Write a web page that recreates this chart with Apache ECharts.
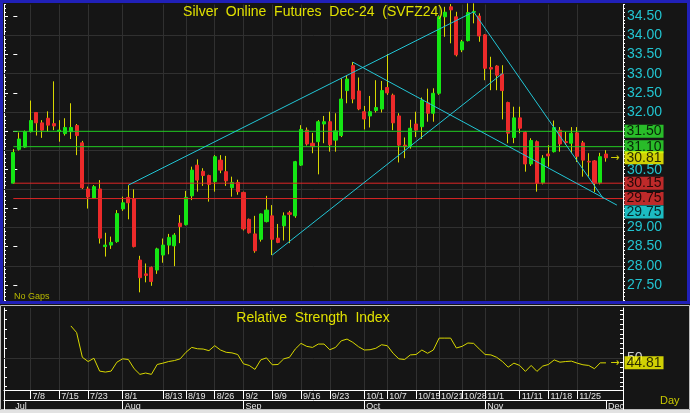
<!DOCTYPE html>
<html><head><meta charset="utf-8">
<script src="https://cdn.jsdelivr.net/npm/echarts@6/dist/echarts.min.js"></script>
<style>html,body{margin:0;padding:0;background:#151515;}#c{width:690px;height:413px;}</style>
</head><body><div id="c"></div>
<script>
// ---------- DATA ----------
const opens = [30.15,31.03,31.09,31.49,31.99,31.72,31.84,31.70,31.50,31.44,31.49,31.65,31.20,30.00,29.76,30.00,28.50,28.54,28.63,29.48,
29.78,29.74,28.15,27.79,27.96,27.89,28.28,28.54,28.52,29.11,29.07,29.82,30.62,30.46,30.35,30.19,30.75,30.45,30.03,30.17,
29.91,29.21,28.83,28.69,29.15,29.30,28.72,29.04,29.38,29.30,30.62,31.53,31.19,31.23,31.69,31.75,31.27,31.39,32.56,33.21,
32.55,32.01,31.90,32.04,32.08,32.64,32.44,31.90,31.14,31.10,31.69,31.62,32.24,31.97,32.49,34.48,34.74,34.48,33.62,33.86,
34.60,34.50,34.01,33.16,33.20,32.99,32.25,31.34,31.85,31.47,30.65,31.23,30.16,30.91,30.97,31.53,31.23,31.19,31.46,31.20,
30.72,30.73,30.16,30.91];
const closes = [30.95,31.30,31.49,31.78,31.72,31.53,31.66,31.64,31.53,31.60,31.60,31.39,30.03,29.79,30.06,28.72,28.54,28.61,29.36,29.64,
29.64,28.50,27.69,27.75,27.59,28.44,28.54,28.74,28.80,29.02,29.78,30.49,30.23,30.35,30.12,30.84,30.49,30.21,30.17,29.93,
28.96,28.86,28.39,29.35,29.45,28.69,28.61,29.30,29.34,30.71,31.55,31.17,31.10,31.75,31.75,31.15,31.51,32.34,32.86,32.34,
32.08,31.82,32.01,32.12,32.56,32.50,31.72,31.14,31.10,31.58,31.53,32.31,31.97,32.49,34.48,34.60,34.66,33.49,33.83,34.59,
34.62,33.98,33.14,33.12,32.96,32.56,31.45,31.85,31.58,30.65,31.26,30.15,30.80,30.86,31.60,31.17,31.21,31.45,30.85,30.75,
30.70,30.15,30.84,30.81];
const lows = [30.13,31.00,31.07,31.47,31.39,31.33,31.49,31.53,31.23,31.39,31.30,30.88,30.00,29.49,29.74,28.58,28.24,28.44,28.60,29.43,
29.21,28.48,27.31,27.57,27.48,27.79,28.08,28.30,27.99,28.59,29.05,29.71,29.93,30.08,29.67,29.93,30.41,30.08,29.80,29.85,
28.92,28.84,28.34,28.63,29.13,28.28,28.59,28.66,28.59,29.25,30.60,31.13,30.93,30.38,31.19,30.97,30.97,31.35,32.23,32.23,
32.05,31.55,31.60,31.99,31.99,32.45,31.53,30.69,30.80,31.05,31.35,31.30,31.75,31.75,32.45,33.96,33.79,33.45,33.56,33.84,
34.31,33.83,32.83,32.57,32.57,31.81,31.19,31.19,31.45,30.45,30.60,29.93,30.12,30.58,30.95,30.97,31.15,30.93,30.70,30.32,
30.32,29.92,30.12,30.71];
const highs = [31.04,31.47,31.52,32.30,32.00,31.79,32.02,32.80,31.79,31.84,32.23,31.69,31.25,30.06,30.10,30.23,28.86,28.76,29.45,29.80,
30.10,29.99,28.26,28.06,27.98,28.47,28.71,28.83,28.85,29.32,29.95,30.58,30.77,30.54,30.37,30.88,30.88,30.86,30.32,30.24,
29.93,29.23,29.30,29.36,29.82,29.58,29.09,29.39,29.43,30.73,31.66,31.60,31.46,31.79,31.90,32.01,31.97,32.88,32.96,33.30,
32.90,32.16,32.42,32.83,32.81,33.51,32.48,31.97,31.34,31.80,32.01,32.38,32.61,32.62,34.52,34.74,34.81,34.61,33.88,34.83,
34.83,34.57,34.03,33.44,33.22,33.22,32.27,32.14,32.14,31.50,31.32,31.26,30.88,31.14,31.78,31.61,31.49,31.61,31.61,31.25,
30.93,30.75,30.94,31.01];
const rsiStart = 10;
const rsiValues = [83.3,76.4,50.6,46.2,49.6,36.2,35.2,36.2,45.5,49.0,48.3,38.7,32.8,34.2,32.8,43.1,44.5,46.2,47.2,49.0,
55.8,60.9,59.5,59.2,57.5,62.7,58.2,55.8,55.2,53.5,43.8,42.1,38.0,47.9,50.0,42.8,43.1,49.0,50.6,59.2,
65.1,62.0,60.9,64.4,64.4,58.5,60.9,67.8,69.6,66.2,61.6,58.2,58.5,60.0,63.7,62.7,54.8,49.0,48.3,53.1,
53.5,58.2,54.8,58.2,70.6,70.6,70.6,60.3,62.0,65.5,65.1,59.2,53.5,53.1,50.6,46.2,40.3,44.5,42.1,35.9,
42.1,35.9,41.4,43.1,47.9,45.5,46.2,46.6,44.5,42.8,42.1,38.7,44.8,44.81];
const tickIdx = [3,8,13,19,26,30,35,40,45,50,55,61,65,70,74,78,82,88,93,98];
const tickLabels = ['7/8','7/15','7/23','8/1','8/13','8/19','8/26','9/2','9/9','9/16','9/23','10/1','10/7','10/15','10/21','10/28','11/1','11/11','11/18','11/25'];
const monthLabelIdx = [0,19,40,61,82,103];
const monthTickIdx = [19,40,61,82,103];
const monthLabels = ['Jul','Aug','Sep','Oct','Nov','Dec'];
const priceLabels = [34.5,34,33.5,33,32.5,32,30.5,29,28.5,28,27.5];
const priceGrid = [28,29,30,31,32,33,34];
const levelValues = [31.5,31.1,30.15,29.75];
const trendLines = [
  [[20,30.10],[80,34.61]],
  [[45,28.28],[85.05,33.01]],
  [[59,33.30],[104.9,29.58]],
  [[80,34.61],[102.54,29.75]]
];
const trendLabelValue = 29.75;
const rsiGridValues = [50];
const rsiLabelValues = [50];
const titleText = 'Silver  Online  Futures  Dec-24  (SVFZ24)';
const rsiTitleText = 'Relative  Strength  Index';

// ---------- STYLE / LAYOUT ----------
const XMIN = -1.62, XMAX = 105.96;
const FONT = '"Liberation Sans", Arial, sans-serif';
const levelColors = ['#22cc22','#22cc22','#dd2626','#dd2626'];
const levelBoxColors = ['#2ee62e','#2ee62e','#e83030','#e83030'];
const GRID = '#303030';
const YEL = '#d8d800';
const CYAN = '#22c4d0';

const chart = echarts.init(document.getElementById('c'), null, {renderer:'canvas', width:690, height:413});
const idx = opens.map((_, i) => i);
const wickData = idx.map(i => [i, opens[i], closes[i], lows[i], highs[i]]);
const bodyData = idx.map(i => [i, opens[i], closes[i], Math.min(opens[i], closes[i]), Math.max(opens[i], closes[i])]);
const rsiData = rsiValues.map((v, k) => [rsiStart + k, v]);
const lastClose = closes[closes.length - 1];
const lastRsi = rsiValues[rsiValues.length - 1];
const halfTicks = []; for (let v = 27.5; v <= 34.51; v += 0.5) halfTicks.push(+v.toFixed(1));
const rsiTicks10 = []; for (let v = 20; v <= 100; v += 10) rsiTicks10.push(v);
const rsiTicks5 = []; for (let v = 20; v <= 100; v += 5) rsiTicks5.push(v);

const boxLabel = (bg, text) => ({show:true, position:'right', distance:1, formatter:text, color:'#000', fontSize:14,
  fontFamily:FONT, backgroundColor:bg, padding:[1,2,0,2], lineHeight:12});

const PMIN = 27.1, PMAX = 34.8, RMIN = 16.5, RMAX = 102;
const white = {color:'#ffffff', width:1};

const option = {
  backgroundColor:'#151515',
  animation:false,
  grid:[
    {left:4, right:67, top:4.5, height:295.9, containLabel:false, outerBoundsMode:'none'},
    {left:4, right:67, top:308, height:82, containLabel:false, outerBoundsMode:'none'}
  ],
  xAxis:[
    {gridIndex:0, type:'value', min:XMIN, max:XMAX, show:false},
    {gridIndex:1, type:'value', min:XMIN, max:XMAX, position:'bottom',
      axisLine:{show:true, onZero:false, lineStyle:white},
      axisTick:{show:true, customValues:tickIdx, length:9, lineStyle:white},
      axisLabel:{show:true, customValues:tickIdx, formatter:v => tickLabels[tickIdx.indexOf(Math.round(v))] || '',
        color:'#e6e6e6', fontSize:9, fontFamily:FONT, align:'left', padding:[0,0,0,2], margin:2},
      splitLine:{show:false}},
    {gridIndex:1, type:'value', min:XMIN, max:XMAX, position:'bottom', offset:10,
      axisLine:{show:true, onZero:false, lineStyle:white},
      axisTick:{show:true, customValues:monthTickIdx, length:10, lineStyle:white},
      axisLabel:{show:true, customValues:monthLabelIdx, formatter:v => monthLabels[monthLabelIdx.indexOf(Math.round(v))] || '',
        color:'#e6e6e6', fontSize:9, fontFamily:FONT, align:'left', padding:[0,0,0,2], margin:2},
      splitLine:{show:false}}
  ],
  yAxis:[
    {gridIndex:0, type:'value', position:'right', min:PMIN, max:PMAX, interval:0.1,
      axisLine:{show:true, onZero:false, lineStyle:white},
      axisTick:{show:true, length:2, lineStyle:white},
      axisLabel:{show:true, customValues:priceLabels, formatter:v => v.toFixed(2), color:CYAN, fontSize:14, fontFamily:FONT, margin:4},
      splitLine:{show:false}},
    {gridIndex:0, type:'value', position:'right', min:PMIN, max:PMAX,
      axisLine:{show:false}, axisTick:{show:true, customValues:halfTicks, length:4, lineStyle:white},
      axisLabel:{show:false}, splitLine:{show:false}},
    {gridIndex:0, type:'value', position:'left', min:PMIN, max:PMAX, interval:0.1,
      axisLine:{show:true, onZero:false, lineStyle:white},
      axisTick:{show:true, inside:true, length:2, lineStyle:white},
      axisLabel:{show:false}, splitLine:{show:false}},
    {gridIndex:0, type:'value', position:'left', min:PMIN, max:PMAX,
      axisLine:{show:false}, axisTick:{show:true, inside:true, customValues:halfTicks, length:4, lineStyle:white},
      axisLabel:{show:false}, splitLine:{show:false}},
    {gridIndex:1, type:'value', position:'left', min:RMIN, max:RMAX,
      axisLine:{show:true, onZero:false, lineStyle:white},
      axisTick:{show:true, inside:true, customValues:rsiTicks10, length:3, lineStyle:white},
      axisLabel:{show:false}, splitLine:{show:false}},
    {gridIndex:1, type:'value', position:'right', min:RMIN, max:RMAX,
      axisLine:{show:true, onZero:false, lineStyle:white},
      axisTick:{show:true, inside:true, customValues:rsiTicks5, length:3, lineStyle:white},
      axisLabel:{show:true, customValues:rsiLabelValues, formatter:v => String(v), color:'#d0d0d0', fontSize:14, fontFamily:FONT, margin:4},
      splitLine:{show:false}}
  ],
  series:[
    {type:'line', xAxisIndex:0, yAxisIndex:0, data:[], z:1, silent:true,
      markLine:{silent:true, z:1, symbol:['none','none'], label:{show:false}, animation:false,
        lineStyle:{color:GRID, width:1, type:'solid'},
        data:[...tickIdx.map(v => ({xAxis:v})), ...priceGrid.map(v => ({yAxis:v}))]}},
    {type:'line', xAxisIndex:1, yAxisIndex:4, data:[], z:1, silent:true,
      markLine:{silent:true, z:1, symbol:['none','none'], label:{show:false}, animation:false,
        lineStyle:{color:GRID, width:1, type:'solid'},
        data:[...tickIdx.map(v => ({xAxis:v})), ...rsiGridValues.map(v => ({yAxis:v}))]}},
    {type:'candlestick', xAxisIndex:0, yAxisIndex:0, data:wickData, barWidth:0.3, z:2, silent:true,
      itemStyle:{color:YEL, color0:YEL, borderColor:YEL, borderColor0:YEL, borderColorDoji:YEL, borderWidth:1}},
    {type:'candlestick', xAxisIndex:0, yAxisIndex:0, data:bodyData, barWidth:3.6, z:3, silent:true,
      itemStyle:{color:'#14e614', color0:'#ec2a2a', borderColor:'#14e614', borderColor0:'#ec2a2a', borderColorDoji:'#ec2a2a', borderWidth:1}},
    ...levelValues.map((v, k) => ({type:'line', xAxisIndex:0, yAxisIndex:0, data:[[0, v],[XMAX, v]], z:4, silent:true,
      symbol:'none', lineStyle:{color:levelColors[k], width:1}})),
    ...trendLines.map(t => ({type:'line', xAxisIndex:0, yAxisIndex:0, data:t, z:5, silent:true,
      symbol:'none', lineStyle:{color:'#22c6d6', width:1}})),
    {type:'scatter', xAxisIndex:0, yAxisIndex:0, z:10, clip:false, silent:true, symbolSize:1,
      itemStyle:{color:'rgba(0,0,0,0)'},
      data:[
        ...levelValues.map((v, k) => ({value:[XMAX, v], label:boxLabel(levelBoxColors[k], v.toFixed(2))})),
        {value:[XMAX, lastClose], label:boxLabel('#ffff00', lastClose.toFixed(2))},
        {value:[XMAX, lastClose], label:{show:true, position:'left', distance:3, formatter:'\u2192', color:'#ffff00', fontSize:11, fontFamily:'DejaVu Sans'}},
        {value:[XMAX, trendLabelValue], label:Object.assign(boxLabel('#1ee6ee', trendLabelValue.toFixed(2)), {offset:[0,13.5]})}
      ]},
    {type:'line', xAxisIndex:1, yAxisIndex:4, data:rsiData, symbol:'none', z:3, silent:true,
      lineStyle:{color:YEL, width:1}},
    {type:'scatter', xAxisIndex:1, yAxisIndex:4, z:10, clip:false, silent:true, symbolSize:1,
      itemStyle:{color:'rgba(0,0,0,0)'},
      data:[
        {value:[XMAX, lastRsi], label:boxLabel('#ffff00', lastRsi.toFixed(2))},
        {value:[XMAX, lastRsi], label:{show:true, position:'left', distance:3, formatter:'\u2192', color:'#ffff00', fontSize:11, fontFamily:'DejaVu Sans'}}
      ]}
  ],
  graphic:[
    {type:'rect', silent:true, z:100, shape:{x:1.5, y:1.5, width:687, height:301}, style:{fill:'none', stroke:'#2020b8', lineWidth:3}},
    {type:'rect', silent:true, z:100, shape:{x:0.5, y:305.5, width:689, height:104}, style:{fill:'none', stroke:'#bdbdbd', lineWidth:1}},
    {type:'rect', silent:true, z:100, shape:{x:0, y:410, width:690, height:3}, style:{fill:'#e2e2e2'}},
    {type:'line', silent:true, z:100, shape:{x1:623.5, y1:390, x2:623.5, y2:410}, style:{stroke:'#ffffff', lineWidth:1}},
    {type:'line', silent:true, z:100, shape:{x1:4.5, y1:390, x2:4.5, y2:410}, style:{stroke:'#ffffff', lineWidth:1}},
    {type:'text', silent:true, z:100, x:313, y:12, style:{text:titleText, fill:'#e0e000', fontSize:14, fontFamily:FONT, align:'center', verticalAlign:'middle'}},
    {type:'text', silent:true, z:100, x:313, y:318, style:{text:rsiTitleText, fill:'#e0e000', fontSize:14, fontFamily:FONT, align:'center', verticalAlign:'middle'}},
    {type:'text', silent:true, z:100, x:14, y:297, style:{text:'No Gaps', fill:'#b8b800', fontSize:9, fontFamily:FONT, align:'left', verticalAlign:'middle'}},
    {type:'text', silent:true, z:100, x:660, y:401, style:{text:'Day', fill:'#c8c800', fontSize:11, fontFamily:FONT, align:'left', verticalAlign:'middle'}}
  ]
};
chart.setOption(option);
</script>
</body></html>
